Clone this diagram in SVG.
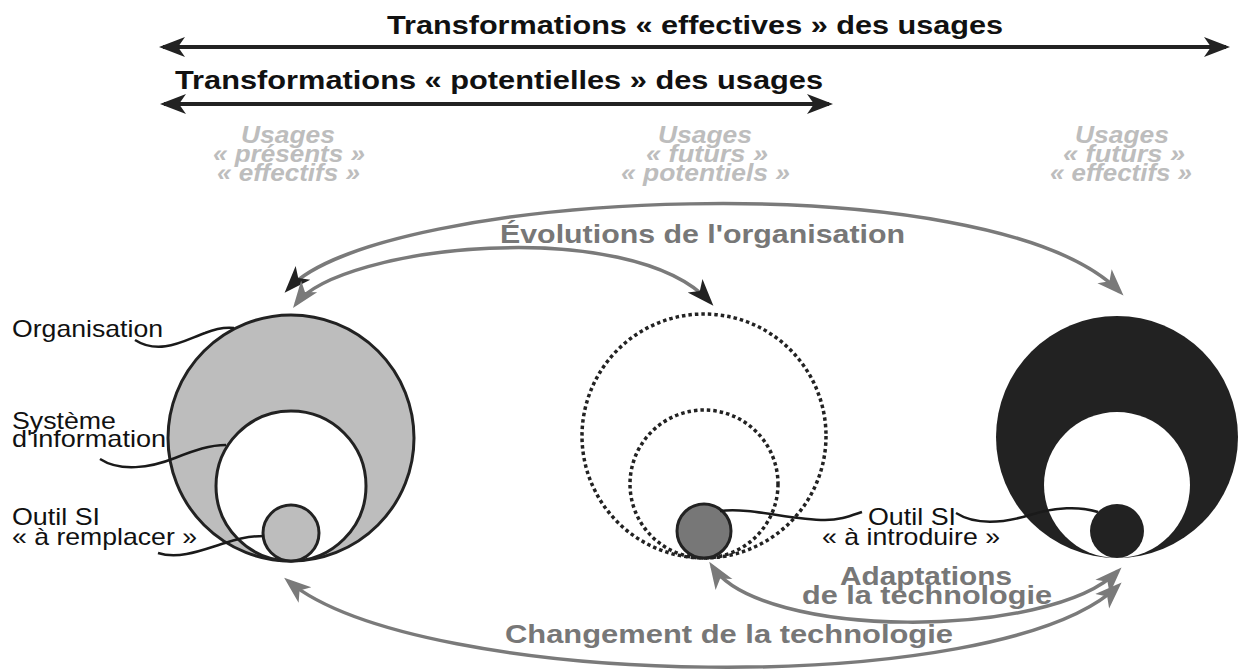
<svg xmlns="http://www.w3.org/2000/svg" width="1240" height="670" viewBox="0 0 1240 670">
<style>
.title{font-family:"Liberation Sans",Arial,sans-serif;font-weight:bold;font-size:26px;fill:#111}
.usage{font-family:"Liberation Sans",Arial,sans-serif;font-weight:bold;font-style:italic;font-size:23px;fill:#bdbdbd}
.flow{font-family:"Liberation Sans",Arial,sans-serif;font-weight:bold;font-size:26px;fill:#777}
.lab{font-family:"Liberation Sans",Arial,sans-serif;font-size:24px;fill:#111}
.dark{fill:none;stroke:#222;stroke-width:4}
.arc{fill:none;stroke:#7a7a7a;stroke-width:3.5}
.lead{fill:none;stroke:#1a1a1a;stroke-width:2.5}
.ring{stroke:#222;stroke-width:3}
.dot{fill:none;stroke:#222;stroke-width:3.5;stroke-dasharray:3.5 3}
</style>
<defs>
<marker id="hd" markerUnits="userSpaceOnUse" viewBox="0 -11 28 22" refX="22" refY="0" markerWidth="28" markerHeight="22" orient="auto-start-reverse">
<path d="M0,-10 L26,0 L0,10 L7,0 Z" fill="#222"/>
</marker>
<marker id="hg" markerUnits="userSpaceOnUse" viewBox="0 -12 30 24" refX="22" refY="0" markerWidth="30" markerHeight="24" orient="auto-start-reverse">
<path d="M0,-10 L27,0 L0,10 L7,0 Z" fill="#7a7a7a"/>
</marker>
<marker id="hk" markerUnits="userSpaceOnUse" viewBox="0 -12 30 24" refX="22" refY="0" markerWidth="30" markerHeight="24" orient="auto-start-reverse">
<path d="M0,-10 L27,0 L0,10 L7,0 Z" fill="#222"/>
</marker>
</defs>

<g id="titles">
<text class="title" x="387" y="34" textLength="616" lengthAdjust="spacingAndGlyphs">Transformations « effectives » des usages</text>
<text class="title" x="175" y="89" textLength="648" lengthAdjust="spacingAndGlyphs">Transformations « potentielles » des usages</text>
</g>

<g id="usages-present">
<text class="usage" x="241" y="143" textLength="94" lengthAdjust="spacingAndGlyphs">Usages</text>
<text class="usage" x="213" y="162" textLength="152" lengthAdjust="spacingAndGlyphs">« présents »</text>
<text class="usage" x="217" y="181" textLength="143" lengthAdjust="spacingAndGlyphs">« effectifs »</text>
</g>
<g id="usages-futurs-potentiels">
<text class="usage" x="658" y="143" textLength="94" lengthAdjust="spacingAndGlyphs">Usages</text>
<text class="usage" x="646" y="162" textLength="122" lengthAdjust="spacingAndGlyphs">« futurs »</text>
<text class="usage" x="621" y="181" textLength="169" lengthAdjust="spacingAndGlyphs">« potentiels »</text>
</g>
<g id="usages-futurs-effectifs">
<text class="usage" x="1075" y="143" textLength="94" lengthAdjust="spacingAndGlyphs">Usages</text>
<text class="usage" x="1063" y="162" textLength="122" lengthAdjust="spacingAndGlyphs">« futurs »</text>
<text class="usage" x="1050" y="181" textLength="142" lengthAdjust="spacingAndGlyphs">« effectifs »</text>
</g>

<g id="org-present">
<circle class="ring" cx="291" cy="438" r="123" fill="#bdbdbd"/>
<circle class="ring" cx="291" cy="486" r="75" fill="#fff"/>
<circle class="ring" cx="291" cy="533" r="28" fill="#bdbdbd"/>
</g>
<g id="org-potentiel">
<circle class="dot" cx="704" cy="436" r="122"/>
<circle class="dot" cx="704" cy="484" r="74"/>
<circle class="ring" cx="704" cy="531" r="27" fill="#777"/>
</g>
<g id="org-futur">
<circle cx="1117" cy="437" r="121" fill="#222"/>
<circle cx="1117" cy="485" r="73" fill="#fff"/>
<circle cx="1117" cy="531" r="27" fill="#222"/>
</g>

<g id="label-organisation">
<text class="lab" x="12" y="337" textLength="151" lengthAdjust="spacingAndGlyphs">Organisation</text>
</g>
<g id="label-si">
<text class="lab" x="12" y="429" textLength="104" lengthAdjust="spacingAndGlyphs">Système</text>
<text class="lab" x="12" y="447" textLength="154" lengthAdjust="spacingAndGlyphs">d'information</text>
</g>
<g id="label-outil-remplacer">
<text class="lab" x="12" y="525" textLength="88" lengthAdjust="spacingAndGlyphs">Outil SI</text>
<text class="lab" x="12" y="545" textLength="185" lengthAdjust="spacingAndGlyphs">« à remplacer »</text>
</g>
<g id="label-outil-introduire">
<text class="lab" x="868" y="525" textLength="88" lengthAdjust="spacingAndGlyphs">Outil SI</text>
<text class="lab" x="822" y="545" textLength="178" lengthAdjust="spacingAndGlyphs">« à introduire »</text>
</g>

<g id="flow-labels">
<text class="flow" x="500" y="243" textLength="405" lengthAdjust="spacingAndGlyphs">Évolutions de l'organisation</text>
<text class="flow" x="840" y="585" textLength="172" lengthAdjust="spacingAndGlyphs">Adaptations</text>
<text class="flow" x="802" y="604" textLength="250" lengthAdjust="spacingAndGlyphs">de la technologie</text>
<text class="flow" x="505" y="643" textLength="448" lengthAdjust="spacingAndGlyphs">Changement de la technologie</text>
</g>

<g id="connectors">
<path class="dark" d="M163,47 H1226" marker-start="url(#hd)" marker-end="url(#hd)"/>
<path class="dark" d="M164,104 H829" marker-start="url(#hd)" marker-end="url(#hd)"/>
<path class="arc" d="M288,289 C380,190 990,160 1120,292" marker-start="url(#hk)" marker-end="url(#hg)"/>
<path class="arc" d="M296,304 C340,245 630,215 710,302" marker-start="url(#hg)" marker-end="url(#hk)"/>
<path class="arc" d="M712,566 C760,640 1050,640 1118,571" marker-start="url(#hg)" marker-end="url(#hg)"/>
<path class="arc" d="M288,581 C420,690 1000,700 1118,586" marker-start="url(#hg)" marker-end="url(#hg)"/>
<path class="lead" d="M135,340 C160,356 185,340 205,333 C215,329 225,327 234,328"/>
<path class="lead" d="M100,459 C120,472 150,468 175,458 C195,450 210,445 226,445"/>
<path class="lead" d="M158,553 C180,560 205,549 225,543 C240,538 252,536 264,536"/>
<path class="lead" d="M720,511 C750,507 790,520 825,520 C840,520 850,516 862,512"/>
<path class="lead" d="M956,513 C975,525 1000,524 1030,515 C1055,507 1080,506 1098,512"/>
</g>
</svg>
